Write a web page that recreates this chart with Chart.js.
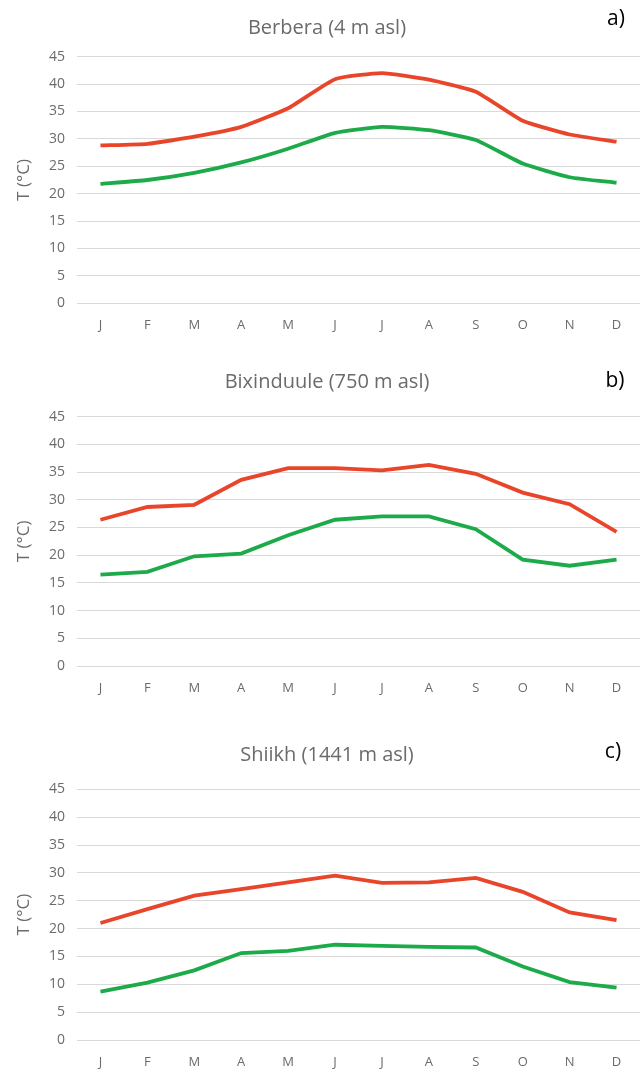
<!DOCTYPE html>
<html>
<head>
<meta charset="utf-8">
<title>Monthly temperatures</title>
<script src="https://cdn.jsdelivr.net/npm/chart.js@4.4.1/dist/chart.umd.min.js"></script>
<style>
  html, body { margin: 0; padding: 0; background: #ffffff; }
  body { width: 644px; height: 1071px; position: relative; overflow: hidden; }
  .panel { position: absolute; left: 0; width: 644px; }
  .panel canvas { display: block; }
</style>
</head>
<body>
<div class="panel" id="pa"><canvas id="chartA"></canvas></div>
<div class="panel" id="pb"><canvas id="chartB"></canvas></div>
<div class="panel" id="pc"><canvas id="chartC"></canvas></div>
<script>
// Month initials on the category axis
const months = ['J', 'F', 'M', 'A', 'M', 'J', 'J', 'A', 'S', 'O', 'N', 'D'];
// Temperature axis tick values (°C)
const tempTicks = [0, 5, 10, 15, 20, 25, 30, 35, 40, 45];

// Berbera (4 m asl): monthly mean maximum / minimum temperature, °C
const berberaMax = [28.8, 29.1, 30.4, 32.2, 35.6, 40.9, 42.0, 40.8, 38.6, 33.3, 30.8, 29.5];
const berberaMin = [21.8, 22.5, 23.8, 25.7, 28.2, 31.1, 32.2, 31.6, 29.8, 25.5, 23.0, 22.0];

// Bixinduule (750 m asl)
const bixinduuleMax = [26.4, 28.7, 29.1, 33.6, 35.7, 35.7, 35.3, 36.3, 34.7, 31.3, 29.2, 24.2];
const bixinduuleMin = [16.5, 17.0, 19.8, 20.3, 23.6, 26.4, 27.0, 27.0, 24.7, 19.2, 18.1, 19.2];

// Shiikh (1441 m asl)
const shiikhMax = [21.0, 23.5, 25.9, 27.1, 28.3, 29.5, 28.2, 28.3, 29.1, 26.6, 22.9, 21.5];
const shiikhMin = [8.7, 10.3, 12.5, 15.6, 16.0, 17.1, 16.9, 16.7, 16.6, 13.2, 10.4, 9.4];

const RED = '#e8452a';
const GREEN = '#1dab4a';
const GRAY_TEXT = '#6b6b6b';
const GRID = '#d9d9d9';
const FONT = "'Open Sans', 'DejaVu Sans', sans-serif";

// Draws the a) / b) / c) panel tag in the top-right corner
const panelTagPlugin = {
  id: 'panelTag',
  afterDraw(chart, args, opts) {
    if (!opts || !opts.text) return;
    const ctx = chart.ctx;
    ctx.save();
    ctx.font = '21px ' + FONT;
    ctx.fillStyle = '#000000';
    ctx.textAlign = 'center';
    ctx.textBaseline = 'middle';
    ctx.fillText(opts.text, opts.x, opts.y);
    ctx.restore();
  }
};

function makePanel(cfg) {
  const holder = document.getElementById(cfg.holder);
  holder.style.top = cfg.top + 'px';
  holder.style.height = cfg.height + 'px';
  const canvas = document.getElementById(cfg.canvas);
  canvas.width = 644;
  canvas.height = cfg.height;
  canvas.style.width = '644px';
  canvas.style.height = cfg.height + 'px';

  const titleSize = 20;
  const titleLine = titleSize * 1.2;
  const titleCenter = cfg.titleY - cfg.top;
  const plotTop = cfg.plotTop - cfg.top;
  const plotBottom = cfg.plotBottom - cfg.top;
  const padTop = titleCenter - titleLine / 2;
  const padBottom = plotTop - padTop - titleLine;

  return new Chart(canvas, {
    type: 'line',
    data: {
      labels: months,
      datasets: [
        {
          label: 'Tmax',
          data: cfg.max,
          borderColor: RED,
          backgroundColor: RED,
          borderWidth: 3.8,
          pointRadius: 0,
          tension: cfg.tension,
          fill: false
        },
        {
          label: 'Tmin',
          data: cfg.min,
          borderColor: GREEN,
          backgroundColor: GREEN,
          borderWidth: 3.8,
          pointRadius: 0,
          tension: cfg.tension,
          fill: false
        }
      ]
    },
    options: {
      responsive: false,
      animation: false,
      devicePixelRatio: 1,
      layout: { padding: { left: 14, right: 4, top: 0, bottom: 0 } },
      plugins: {
        legend: { display: false },
        tooltip: { enabled: false },
        title: {
          display: true,
          text: cfg.title,
          color: GRAY_TEXT,
          font: { family: FONT, size: titleSize, weight: 'normal', lineHeight: 1.2 },
          padding: { top: padTop, bottom: padBottom }
        },
        panelTag: { text: cfg.tag, x: cfg.tagX, y: cfg.tagY - cfg.top }
      },
      scales: {
        x: {
          type: 'category',
          offset: true,
          border: { display: false },
          grid: { display: false, drawTicks: false },
          ticks: {
            color: GRAY_TEXT,
            font: { family: FONT, size: 13 },
            padding: 14,
            maxRotation: 0,
            autoSkip: false
          },
          afterFit(scale) { scale.height = cfg.height - plotBottom; }
        },
        y: {
          type: 'linear',
          min: tempTicks[0],
          max: tempTicks[tempTicks.length - 1],
          border: { display: false },
          grid: { color: GRID, lineWidth: 1, drawTicks: false },
          afterBuildTicks(scale) { scale.ticks = tempTicks.map(v => ({ value: v })); },
          ticks: {
            color: GRAY_TEXT,
            font: { family: FONT, size: 14 },
            padding: 12
          },
          title: {
            display: true,
            text: 'T (°C)',
            color: GRAY_TEXT,
            font: { family: FONT, size: 17, lineHeight: 1.2 },
            padding: { top: 0, bottom: 0 }
          },
          afterFit(scale) { scale.width = 63; }
        }
      }
    },
    plugins: [panelTagPlugin]
  });
}

makePanel({
  holder: 'pa', canvas: 'chartA', top: 0, height: 345,
  title: 'Berbera (4 m asl)', titleY: 28, plotTop: 56.7, plotBottom: 303.3,
  tag: 'a)', tagX: 616, tagY: 19, tension: 0.15,
  max: berberaMax, min: berberaMin
});
makePanel({
  holder: 'pb', canvas: 'chartB', top: 345, height: 365,
  title: 'Bixinduule (750 m asl)', titleY: 382, plotTop: 416.7, plotBottom: 666,
  tag: 'b)', tagX: 615, tagY: 381, tension: 0,
  max: bixinduuleMax, min: bixinduuleMin
});
makePanel({
  holder: 'pc', canvas: 'chartC', top: 710, height: 361,
  title: 'Shiikh (1441 m asl)', titleY: 755, plotTop: 789.3, plotBottom: 1040,
  tag: 'c)', tagX: 613, tagY: 752, tension: 0,
  max: shiikhMax, min: shiikhMin
});
</script>
</body>
</html>
